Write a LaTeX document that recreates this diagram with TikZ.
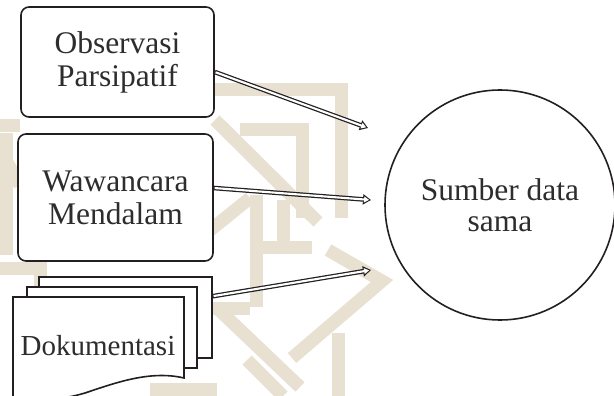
\documentclass[tikz,border=0pt]{standalone}
\usepackage{fontspec}
\setmainfont{Liberation Serif}
\usetikzlibrary{arrows.meta}
\definecolor{wm}{RGB}{232,224,209}
\definecolor{ink}{RGB}{35,31,32}
\definecolor{txt}{RGB}{45,45,45}
\begin{document}
\begin{tikzpicture}[x=1pt,y=-1pt,
  band/.style={draw=wm, line width=13pt, line cap=butt},
  procbox/.style={draw=ink, line width=1.6pt, rounded corners=8pt, fill=white, text=txt, align=center, font=\fontsize{31.5}{33}\selectfont, inner sep=0pt},
  page/.style={draw=ink, line width=1.6pt, fill=white, inner sep=0pt},
  flow/.style={draw=white, line width=2.1pt, shorten >=1.9pt, shorten <=0.8pt,
    -{Triangle[length=5pt,width=5.6pt]},
    preaction={draw=ink, line width=4.6pt, shorten >=0pt, shorten <=0pt, -{Triangle[length=8pt,width=10pt]}}},
]
\useasboundingbox (0,0) rectangle (614,396);
% watermark
\draw[band] (213,90) -- (341,90) -- (341,218);
\draw[band] (240,130) -- (302,130) -- (302,218);
\draw[band] (215,120) -- (318,222);
\draw[band] (256,195) -- (256,307);
\draw[band] (283,200) -- (283,247);
\draw[band] (256,247) -- (312,247);
\draw[band] (328,250) -- (382,281) -- (292,358);
\draw[band] (217,308) -- (300,387);
\draw[band] (338,333) -- (338,396);
\draw[band] (203,236) -- (250,198);
\draw[band] (212,308) -- (250,308);
\draw[band] (150,389) -- (217,389);
\draw[band] (247,360) -- (283,396);
\draw[band] (0,126) -- (20,126);
\draw[band] (6,133) -- (6,255);
\draw[band] (0,268) -- (40,268) -- (40,300);
\draw[band] (0,150) -- (20,185);
% boxes
\node[procbox, minimum width=193pt, minimum height=110pt] (obs) at (117.5,62) {Observasi\\Parsipatif};
\node[procbox, minimum width=195pt, minimum height=127pt] (waw) at (115.5,197.5) {Wawancara\\Mendalam};
% documents
\node[page, minimum width=173pt, minimum height=81pt] (doc3) at (125.5,317.5) {};
\node[page, minimum width=170pt, minimum height=81pt] (doc2) at (112,327.5) {};
\draw[page] (13,297) -- (184,297) -- (184,378) .. controls (150,370) and (115,383) .. (85,393) .. controls (55,402) and (30,400) .. (13,397) -- cycle;
\node[text=txt, font=\fontsize{29}{31}\selectfont, anchor=base] (dok) at (98,355) {Dokumentasi};
% circle
\node[draw=ink, line width=1.6pt, circle, minimum size=230pt, inner sep=0pt, fill=white, text=txt, align=center, font=\fontsize{31.5}{31}\selectfont] (src) at (500,205) {Sumber data\\sama};
% arrows
\coordinate (e1) at (368,128);
\coordinate (e2) at (371,200);
\coordinate (e3) at (371,270);
\draw[flow] ([yshift=-10pt]obs.east) -- (e1);
\draw[flow] ([yshift=9.5pt]waw.east) -- (e2);
\draw[flow] ([yshift=-20pt]doc3.north east) -- (e3);
\end{tikzpicture}
\end{document}
